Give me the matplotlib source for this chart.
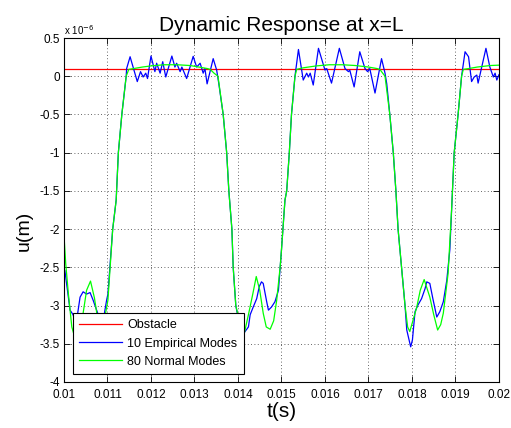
import numpy as np
import matplotlib
matplotlib.use("Agg")
import matplotlib.pyplot as plt

plt.rcParams['font.family'] = ['Liberation Sans', 'DejaVu Sans']
plt.rcParams['axes.unicode_minus'] = False

# ---- data (time in seconds, displacement in units of 1e-6 m) ----
obstacle_t = [0.010, 0.020]
obstacle_u = [0.09, 0.09]

empirical_t = [10.00, 10.02, 10.14, 10.21, 10.26, 10.31, 10.37, 10.44, 10.52, 10.60, 10.67,
               10.75, 10.85, 10.93, 10.98, 11.01, 11.12, 11.20, 11.25, 11.33, 11.43, 11.44,
               11.52, 11.685, 11.76, 11.82, 11.88, 11.92, 12.00, 12.09, 12.13, 12.21, 12.27,
               12.34, 12.48, 12.55, 12.59, 12.67, 12.71, 12.82, 12.97, 13.05, 13.13, 13.20,
               13.24, 13.29, 13.43, 13.51, 13.56, 13.66, 13.74, 13.79, 13.86, 13.89, 13.95,
               14.05, 14.15, 14.24, 14.28, 14.35, 14.43, 14.49, 14.54, 14.58, 14.66, 14.70,
               14.77, 14.85, 14.93, 15.00, 15.08, 15.12, 15.18, 15.23, 15.31, 15.39, 15.50,
               15.58, 15.62, 15.66, 15.73, 15.85, 16.00, 16.04, 16.15, 16.33, 16.46, 16.54,
               16.57, 16.67, 16.80, 16.92, 16.98, 17.03, 17.15, 17.30, 17.38, 17.42, 17.49,
               17.57, 17.63, 17.68, 17.76, 17.84, 17.88, 17.97, 18.01, 18.07, 18.14, 18.22,
               18.30, 18.34, 18.41, 18.48, 18.57, 18.64, 18.72, 18.80, 18.87, 18.91, 18.97,
               19.06, 19.14, 19.22, 19.30, 19.37, 19.43, 19.49, 19.52, 19.70, 19.79, 19.87,
               19.91, 19.95, 20.00]
empirical_u = [-2.52, -2.54, -3.06, -3.12, -3.22, -3.12, -2.89, -2.82, -2.85, -2.83, -2.93,
               -3.06, -3.22, -3.10, -2.93, -2.85, -2.00, -1.62, -1.00, -0.50, 0.00, 0.10,
               0.255, -0.07, 0.06, -0.01, 0.04, -0.03, 0.264, 0.06, 0.17, 0.04, 0.19,
               -0.01, 0.264, 0.12, 0.17, 0.06, 0.12, -0.03, 0.26, 0.12, 0.17, 0.04,
               0.10, -0.10, 0.23, 0.08, -0.10, -0.50, -1.00, -1.50, -2.00, -2.50, -3.00,
               -3.30, -3.35, -3.28, -3.12, -3.02, -2.91, -2.75, -2.69, -2.71, -2.95, -3.06,
               -3.02, -2.95, -2.80, -2.27, -1.62, -1.50, -1.00, -0.50, 0.00, 0.35, -0.05,
               0.04, -0.01, 0.04, -0.115, 0.365, 0.08, 0.10, -0.09, 0.365, 0.10, 0.06,
               0.08, -0.14, 0.32, 0.10, 0.06, 0.10, -0.22, 0.23, 0.04, -0.10, -0.50,
               -1.00, -1.50, -2.00, -2.50, -3.00, -3.32, -3.54, -3.45, -3.08, -2.99, -2.91,
               -2.78, -2.69, -2.71, -2.91, -3.15, -3.08, -2.95, -2.67, -2.27, -1.75, -1.00,
               -0.50, 0.00, 0.32, 0.255, -0.07, -0.01, 0.015, -0.09, 0.365, 0.12, -0.01,
               0.04, -0.05, 0.02]

normal_t = [10.00, 10.04, 10.10, 10.18, 10.24, 10.32, 10.44, 10.52, 10.61, 10.70, 10.76,
            10.84, 10.94, 11.01, 11.12, 11.20, 11.25, 11.33, 11.43, 11.49, 11.60, 11.80,
            12.00, 12.30, 12.60, 12.90, 13.10, 13.30, 13.36, 13.45, 13.54, 13.66, 13.74,
            13.79, 13.86, 13.89, 13.95, 14.05, 14.15, 14.24, 14.34, 14.42, 14.50, 14.58,
            14.65, 14.74, 14.82, 14.89, 14.97, 15.00, 15.08, 15.12, 15.18, 15.23, 15.31,
            15.35, 15.50, 15.80, 16.10, 16.40, 16.70, 17.00, 17.20, 17.26, 17.38, 17.49,
            17.57, 17.63, 17.68, 17.76, 17.84, 17.90, 17.95, 18.02, 18.11, 18.19, 18.28,
            18.41, 18.50, 18.59, 18.66, 18.72, 18.83, 18.91, 18.97, 19.06, 19.14, 19.18,
            19.30, 19.50, 19.80, 20.00]
normal_u = [-2.08, -2.45, -2.84, -3.28, -3.40, -3.30, -3.10, -2.80, -2.68, -2.90, -3.12,
            -3.30, -3.15, -2.93, -2.00, -1.62, -1.00, -0.50, 0.00, 0.09, 0.10, 0.12,
            0.135, 0.15, 0.15, 0.14, 0.12, 0.10, 0.09, 0.04, 0.00, -0.50, -1.00,
            -1.50, -2.00, -2.50, -3.00, -3.25, -3.35, -3.12, -2.85, -2.62, -2.80, -3.10,
            -3.28, -3.31, -3.20, -2.93, -2.49, -2.27, -1.62, -1.50, -1.00, -0.50, 0.00,
            0.09, 0.11, 0.135, 0.15, 0.15, 0.14, 0.12, 0.10, 0.09, 0.00, -0.50,
            -1.00, -1.50, -2.00, -2.50, -3.00, -3.28, -3.34, -3.20, -3.02, -2.80, -2.66,
            -2.89, -3.12, -3.32, -3.25, -3.10, -2.58, -1.75, -1.00, -0.50, 0.00, 0.09,
            0.10, 0.12, 0.14, 0.145]

x_ticks = [0.010, 0.011, 0.012, 0.013, 0.014, 0.015, 0.016, 0.017, 0.018, 0.019, 0.020]
x_tick_labels = ['0.01', '0.011', '0.012', '0.013', '0.014', '0.015', '0.016', '0.017',
                 '0.018', '0.019', '0.02']
y_ticks = [-4, -3.5, -3, -2.5, -2, -1.5, -1, -0.5, 0, 0.5]
y_tick_labels = ['-4', '-3.5', '-3', '-2.5', '-2', '-1.5', '-1', '-0.5', '0', '0.5']

# ---- figure ----
fig = plt.figure(figsize=(5.11, 4.28), dpi=100)
ax = fig.add_axes([0.1252, 0.1075, 0.8513, 0.8037])

ax.plot(obstacle_t, obstacle_u, color='#ff0000', lw=0.9, label='Obstacle')
ax.plot(np.array(empirical_t) * 1e-3, empirical_u, color='#0000ff', lw=0.9,
        label='10 Empirical Modes')
ax.plot(np.array(normal_t) * 1e-3, normal_u, color='#00ff00', lw=0.9,
        label='80 Normal Modes')

ax.set_xlim(0.010, 0.020)
ax.set_ylim(-4, 0.5)
ax.set_xticks(x_ticks)
ax.set_xticklabels(x_tick_labels)
ax.set_yticks(y_ticks)
ax.set_yticklabels(y_tick_labels)
ax.tick_params(direction='in', top=True, right=True, length=4, width=0.6,
               labelsize=8.5)
ax.tick_params(axis='x', pad=5)
ax.tick_params(axis='y', pad=3)
ax.grid(True, linestyle=(0, (1, 3)), color='#333333', linewidth=0.6)
for s in ax.spines.values():
    s.set_linewidth(0.8)

ax.set_title('Dynamic Response at x=L', fontsize=15, pad=5)
ax.set_xlabel('t(s)', fontsize=15, labelpad=1)
ax.set_ylabel('u(m)', fontsize=14)
ax.yaxis.set_label_coords(-0.072, 0.44)
ax.text(0.0, 1.004, r'x 10$^{-6}$', transform=ax.transAxes, fontsize=7,
        ha='left', va='bottom')

leg = ax.legend(loc='lower left', bbox_to_anchor=(0.0207, 0.023), borderaxespad=0,
                fontsize=9, fancybox=False, framealpha=1, edgecolor='black',
                handlelength=3.4, handletextpad=0.45, labelspacing=0.5,
                borderpad=0.5)
leg.get_frame().set_linewidth(0.8)

fig.savefig('out.png', dpi=100)
